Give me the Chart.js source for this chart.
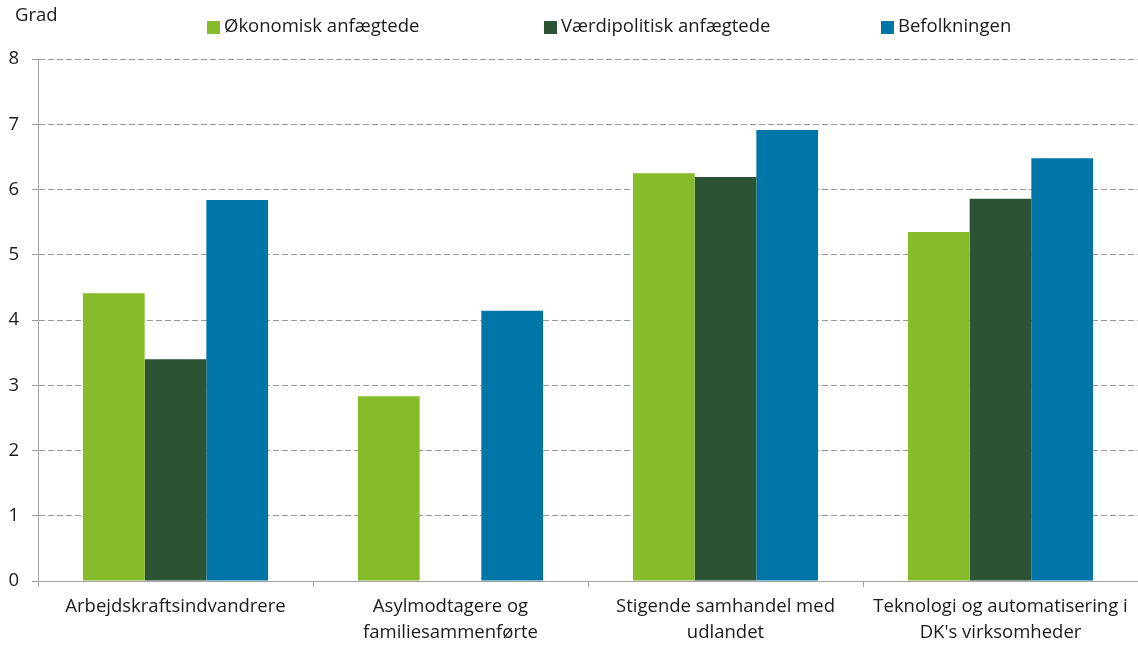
<!DOCTYPE html>
<html>
<head>
<meta charset="utf-8">
<script src="https://cdn.jsdelivr.net/npm/chart.js@4"></script>
<style>
  html, body { margin: 0; padding: 0; background: #fff; }
  #wrap { width: 1138px; height: 646px; position: relative; }
</style>
</head>
<body>
<div id="wrap"><canvas id="chart"></canvas></div>
<script>
const categories = [
    ['Arbejdskraftsindvandrere'],
    ['Asylmodtagere og', 'familiesammenførte'],
    ['Stigende samhandel med', 'udlandet'],
    ['Teknologi og automatisering i', "DK's virksomheder"]
];
const seriesNames = ['Økonomisk anfægtede', 'Værdipolitisk anfægtede', 'Befolkningen'];
const okonomisk = [4.41, 2.83, 6.25, 5.35];
const vaerdipolitisk = [3.40, null, 6.19, 5.86];
const befolkningen = [5.84, 4.14, 6.91, 6.48];
const yTicks = [0, 1, 2, 3, 4, 5, 6, 7, 8];
const colors = ['#86bc29', '#2b5334', '#0075a7'];

const FONT = "'Open Sans', sans-serif";
const FONT_SIZE = 18.5;

// legend + "Grad" drawn by hand so the items sit in even columns
const topLabels = {
    id: 'topLabels',
    afterDraw(chart) {
        const ctx = chart.ctx;
        ctx.save();
        ctx.font = FONT_SIZE + "px " + FONT;
        ctx.fillStyle = '#1a1a1a';
        ctx.textBaseline = 'middle';
        ctx.textAlign = 'left';
        ctx.fillText('Grad', 15, 16);
        chart.data.datasets.forEach((ds, i) => {
            const x = 207 + i * 337;
            ctx.fillStyle = ds.backgroundColor;
            ctx.fillRect(x, 21, 13, 13);
            ctx.fillStyle = '#1a1a1a';
            ctx.fillText(ds.label, x + 17, 27);
        });
        ctx.restore();
    }
};

new Chart(document.getElementById('chart'), {
    type: 'bar',
    data: {
        labels: categories,
        datasets: [
            { label: seriesNames[0], data: okonomisk, backgroundColor: colors[0] },
            { label: seriesNames[1], data: vaerdipolitisk, backgroundColor: colors[1] },
            { label: seriesNames[2], data: befolkningen, backgroundColor: colors[2] }
        ]
    },
    options: {
        responsive: true,
        maintainAspectRatio: false,
        animation: false,
        layout: { padding: { top: 59, left: 0, right: 0, bottom: 0 } },
        datasets: {
            bar: {
                categoryPercentage: 0.673,
                barPercentage: 1,
                borderWidth: 0
            }
        },
        scales: {
            x: {
                grid: {
                    offset: true,
                    drawOnChartArea: false,
                    drawTicks: true,
                    tickLength: 6,
                    tickColor: '#a0a0a0'
                },
                border: { color: '#a0a0a0', width: 1 },
                ticks: {
                    color: '#1a1a1a',
                    font: { family: FONT, size: FONT_SIZE, lineHeight: 1.4 },
                    padding: 7,
                    maxRotation: 0,
                    autoSkip: false
                },
                afterFit(scale) { scale.height = 65; }
            },
            y: {
                min: 0,
                max: 8,
                afterBuildTicks(scale) { scale.ticks = yTicks.map(v => ({ value: v })); },
                grid: {
                    color: '#9a9a9a',
                    tickBorderDash: [],
                    tickColor: '#9a9a9a',
                    tickLength: 6,
                    lineWidth: 1
                },
                // in v4 the dash here applies to the grid lines, not the axis line
                border: { color: '#a0a0a0', width: 1, dash: [6, 3] },
                ticks: {
                    color: '#1a1a1a',
                    font: { family: FONT, size: FONT_SIZE },
                    padding: 13
                },
                afterFit(scale) { scale.width = 38; }
            }
        },
        plugins: {
            legend: { display: false },
            tooltip: { enabled: false }
        }
    },
    plugins: [topLabels]
});
</script>
</body>
</html>
